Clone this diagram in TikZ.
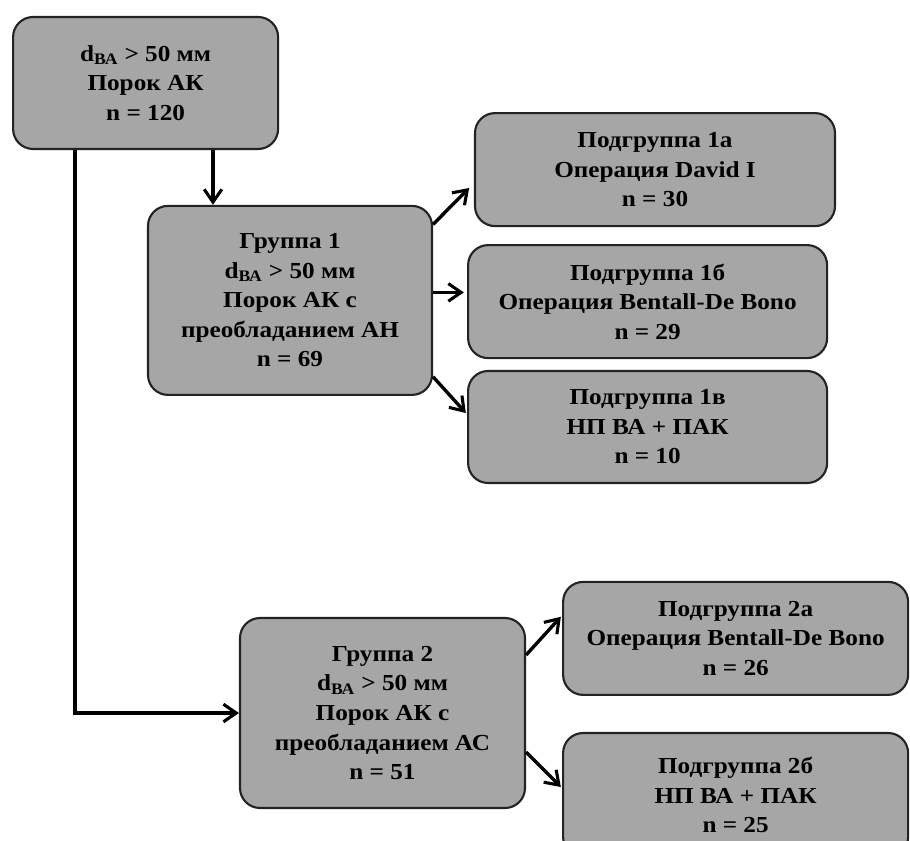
\documentclass[tikz,border=0pt]{standalone}
\usepackage{fontspec}
\setmainfont{Liberation Serif}[FakeStretch=1.1]
\usepackage{tikz}
\usetikzlibrary{arrows.meta, positioning, calc}

\definecolor{boxgray}{RGB}{166,166,166}
\definecolor{boxline}{RGB}{35,35,35}

\begin{document}
\begin{tikzpicture}[
    group/.style={rectangle, rounded corners=0.5cm, draw=boxline, line width=1.5pt,
        fill=boxgray, align=center, inner sep=2pt,
        font=\bfseries\fontsize{16.3}{21}\selectfont},
    conn/.style={black, line width=2.4pt, -{Straight Barb[length=3.2mm, width=4.4mm, line width=2.2pt]}}
]

% -------- Page --------
\useasboundingbox (0,0) rectangle (22.75,-21.025);
\clip (0,0) rectangle (22.75,-21.025);

% -------- Top box --------
\node[group, minimum width=6.625cm, minimum height=3.3cm] (root) at (3.64,-2.075)
    {d\textsubscript{ВА} > 50 мм\\Порок АК\\n = 120};

% -------- Groups --------
\node[group, minimum width=7.1cm, minimum height=4.725cm] (g1) at (7.25,-7.51)
    {Группа 1\\d\textsubscript{ВА} > 50 мм\\Порок АК с\\преобладанием АН\\n = 69};
\node[group, minimum width=7.125cm, minimum height=4.75cm] (g2) at (9.5625,-17.825)
    {Группа 2\\d\textsubscript{ВА} > 50 мм\\Порок АК с\\преобладанием АС\\n = 51};

% -------- Subgroups of group 1 --------
\node[group, minimum width=9cm, minimum height=2.825cm] (s1a) at (16.375,-4.24)
    {Подгруппа 1а\\Операция David I\\n = 30};
\node[group, minimum width=8.975cm, minimum height=2.825cm] (s1b) at (16.19,-7.54)
    {Подгруппа 1б\\Операция Bentall-De Bono\\n = 29};
\node[group, minimum width=8.975cm, minimum height=2.8cm] (s1c) at (16.19,-10.675)
    {Подгруппа 1в\\НП ВА + ПАК\\n = 10};

% -------- Subgroups of group 2 --------
\node[group, minimum width=8.625cm, minimum height=2.825cm] (s2a) at (18.39,-15.96)
    {Подгруппа 2а\\Операция Bentall-De Bono\\n = 26};
\node[group, minimum width=8.625cm, minimum height=3.1cm] (s2b) at (18.39,-19.875)
    {Подгруппа 2б\\НП ВА + ПАК\\n = 25};

% -------- Top box -> groups --------
\draw[conn] ([xshift=1.685cm]root.south) -- ([xshift=1.685cm]root.south |- g1.north);
\draw[conn] ([xshift=-1.765cm]root.south) |- (g2.west);

% -------- Group 1 -> subgroups --------
\draw[conn] ([yshift=1.9cm]g1.east) -- ([xshift=-0.12cm, yshift=-0.46cm]s1a.west);
\draw[conn] ([yshift=0.2cm]g1.east) -- ([xshift=-0.08cm, yshift=0.2cm]g1.east -| s1b.west);
\draw[conn] ([yshift=-1.91cm]g1.east) -- ([xshift=-0.03cm, yshift=0.35cm]s1c.west);

% -------- Group 2 -> subgroups --------
\draw[conn] ([yshift=1.45cm]g2.east) -- ([xshift=-0.03cm, yshift=0.54cm]s2a.west);
\draw[conn] ([yshift=-0.975cm]g2.east) -- ([xshift=-0.03cm, yshift=0.2cm]s2b.west);

\end{tikzpicture}
\end{document}
